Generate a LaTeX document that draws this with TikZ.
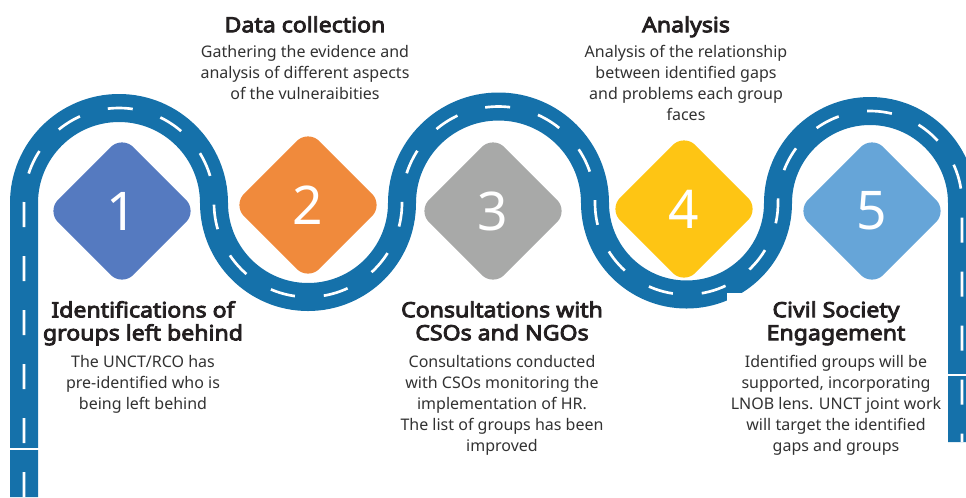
\documentclass[tikz,border=0pt]{standalone}
\usepackage{fontspec}
\setmainfont{Noto Sans}
\newfontfamily\headfont{Noto Sans}[FakeBold=4,FakeStretch=1.1]
\usetikzlibrary{shapes.geometric}

\definecolor{road}{RGB}{21,113,170}
\definecolor{stepone}{RGB}{85,122,192}
\definecolor{steptwo}{RGB}{240,138,60}
\definecolor{stepthree}{RGB}{168,169,168}
\definecolor{stepfour}{RGB}{254,197,20}
\definecolor{stepfive}{RGB}{102,165,216}
\definecolor{titlecol}{RGB}{35,31,32}
\definecolor{bodycol}{RGB}{50,50,50}

\begin{document}
\begin{tikzpicture}[x=0.75pt,y=0.75pt,
  roadband/.style={draw=road,line width=21pt},
  laneline/.style={draw=white,line width=2pt,dash pattern=on 18.75pt off 21.75pt},
  stepdiamond/.style={diamond,aspect=1,minimum size=113pt,inner sep=0pt,
    rounded corners=12pt,text=white,font=\fontsize{40}{40}\selectfont},
  steptitle/.style={anchor=north,align=center,inner sep=0pt,text=titlecol,
    font=\headfont\fontsize{15.75}{17.25}\selectfont},
  stepbody/.style={anchor=north,align=center,inner sep=0pt,text=bodycol,
    font=\fontsize{12}{15.75}\selectfont}]
\useasboundingbox (0,0) rectangle (966,-497);

% winding road: one centre line, drawn as a wide band and a dashed lane line
\def\roadpath{(24,-497) -- (24,-203)
  arc[start angle=180,end angle=0,radius=95]
  arc[start angle=180,end angle=360,radius=94]
  arc[start angle=180,end angle=0,radius=96.5]
  arc[start angle=180,end angle=360,radius=91.5]
  arc[start angle=180,end angle=0,radius=92]
  -- (962,-442)}
\path[roadband] \roadpath;
\path[laneline] \roadpath;

% joints across the two straight ends of the road
\draw[white,line width=1.5pt] (8,-449) -- (41,-449);
\draw[white,line width=1.5pt] (946,-375) -- (966,-375);
\fill[white] (727,-293) rectangle (745,-312);

% numbered steps
\node[stepdiamond,fill=stepone]   (d1) at (122,-211) {1};
\node[stepdiamond,fill=steptwo]   (d2) at (308,-205) {2};
\node[stepdiamond,fill=stepthree] (d3) at (493,-211) {3};
\node[stepdiamond,fill=stepfour]  (d4) at (684,-209) {4};
\node[stepdiamond,fill=stepfive]  (d5) at (872,-211) {5};

% step captions
\node[steptitle] (t2) at (305,-16) {Data collection};
\node[stepbody]  (b2) at (305,-45) {Gathering the evidence and\\analysis of different aspects\\of the vulneraibities};
\node[steptitle] (t4) at (686,-16) {Analysis};
\node[stepbody]  (b4) at (686,-45) {Analysis of the relationship\\between identified gaps\\and problems each group\\faces};
\node[steptitle] (t1) at (143,-301) {Identifications of\\groups left behind};
\node[stepbody]  (b1) at (143,-355) {The UNCT/RCO has\\pre-identified who is\\being left behind};
\node[steptitle] (t3) at (502,-301) {Consultations with\\CSOs and NGOs};
\node[stepbody]  (b3) at (502,-355) {Consultations conducted\\with CSOs monitoring the\\implementation of HR.\\The list of groups has been\\improved};
\node[steptitle] (t5) at (836,-301) {Civil Society\\Engagement};
\node[stepbody]  (b5) at (836,-355) {Identified groups will be\\supported, incorporating\\LNOB lens. UNCT joint work\\will target the identified\\gaps and groups};
\end{tikzpicture}
\end{document}
